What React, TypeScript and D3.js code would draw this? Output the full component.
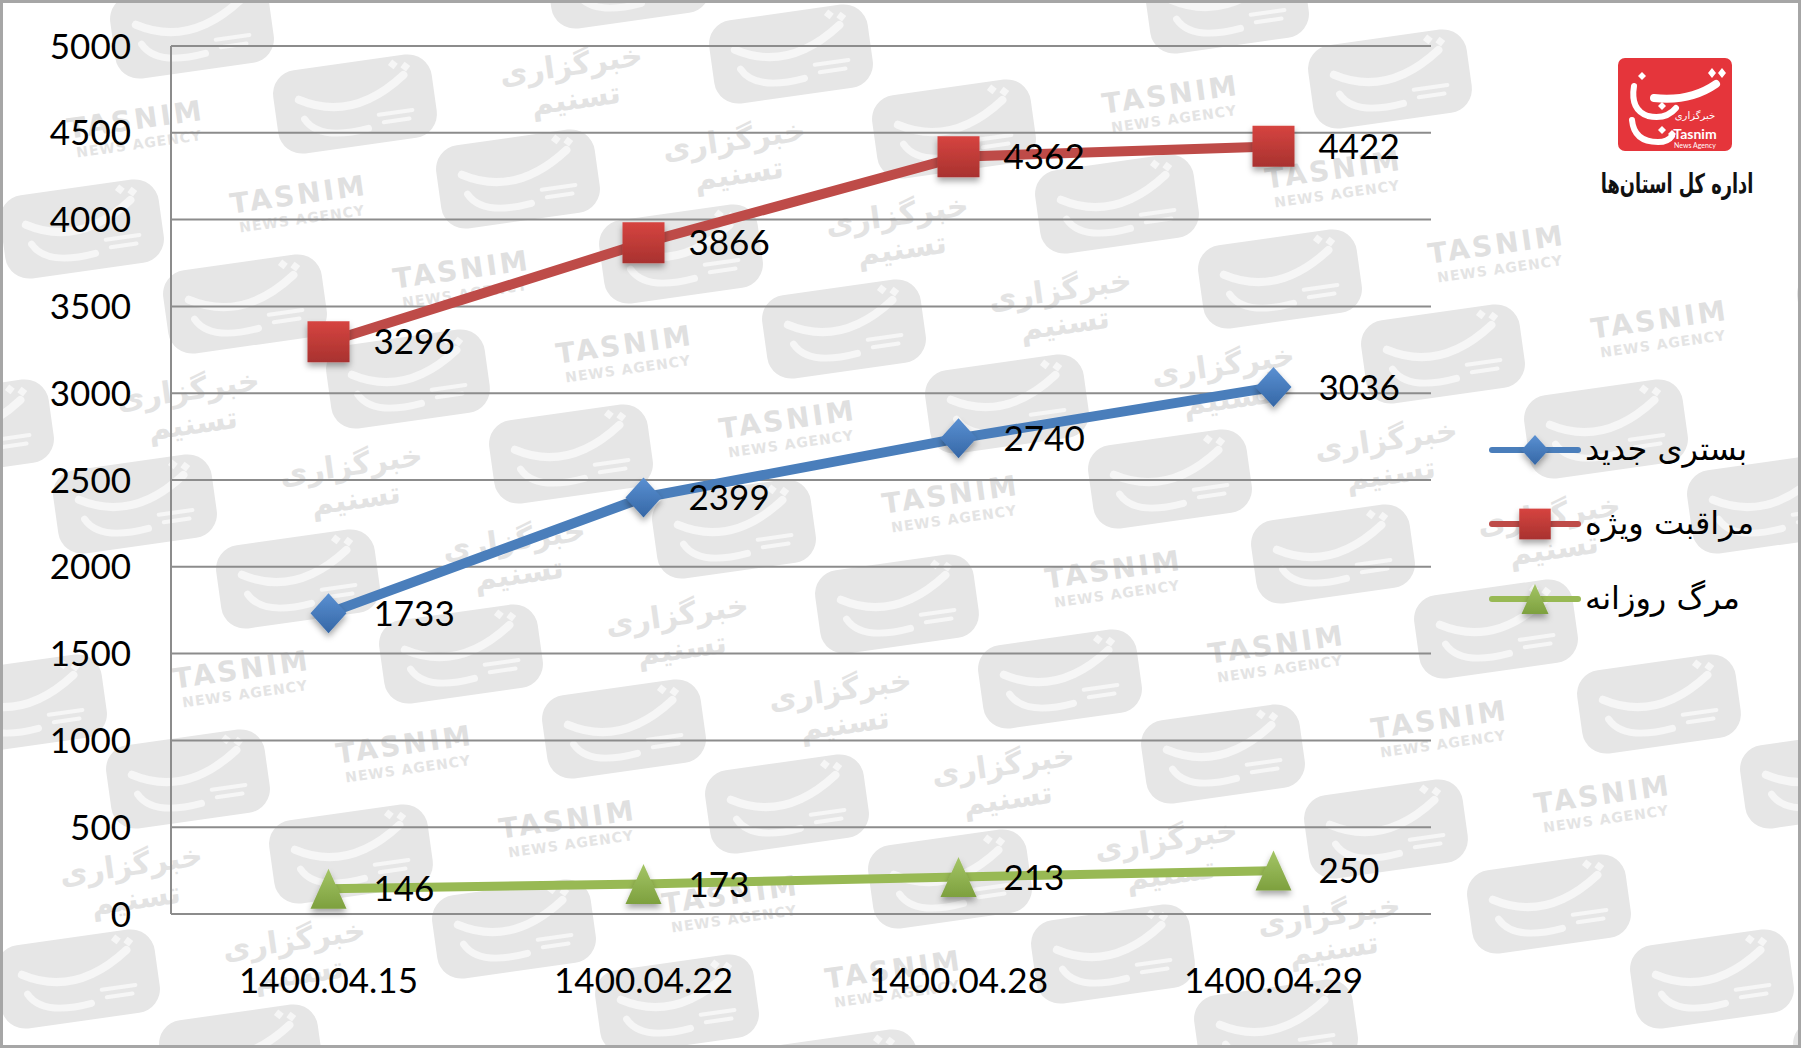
import React from 'react';
import * as d3 from 'd3';

// ---------- data ----------
const categories = ['1400.04.15', '1400.04.22', '1400.04.28', '1400.04.29'];
const hospitalized = [1733, 2399, 2740, 3036]; // بستری جدید
const icu = [3296, 3866, 4362, 4422]; // مراقبت ویژه
const deaths = [146, 173, 213, 250]; // مرگ روزانه
const seriesNames = ['بستری جدید', 'مراقبت ویژه', 'مرگ روزانه'];
const yTicks = [0, 500, 1000, 1500, 2000, 2500, 3000, 3500, 4000, 4500, 5000];
const logoCaption = 'اداره کل استان‌ها';

const W = 1801;
const H = 1048;
const LABEL_FONT = "Lato, 'Open Sans', sans-serif";
const AR_FONT = "'DejaVu Sans', 'Noto Sans', sans-serif";

const diamond = (cx: number, cy: number, hw: number, hh: number) =>
  `M${cx},${cy - hh}L${cx + hw},${cy}L${cx},${cy + hh}L${cx - hw},${cy}Z`;
const square = (cx: number, cy: number, hw: number, hh: number) =>
  `M${cx - hw},${cy - hh}H${cx + hw}V${cy + hh}H${cx - hw}Z`;
const triangle = (cx: number, cy: number, hw: number, hh: number) =>
  `M${cx},${cy - hh}L${cx + hw},${cy + hh}L${cx - hw},${cy + hh}Z`;

const series = [
  { name: seriesNames[0], values: hospitalized, line: '#4A7EBB', grad: 'gBlue', marker: 'diamond', lw: 10 },
  { name: seriesNames[1], values: icu, line: '#BE4B48', grad: 'gRed', marker: 'square', lw: 10 },
  { name: seriesNames[2], values: deaths, line: '#98B954', grad: 'gGreen', marker: 'triangle', lw: 9 },
];

function markerPath(kind: string, cx: number, cy: number, scale = 1) {
  if (kind === 'diamond') return diamond(cx, cy, 18 * scale, 20 * scale);
  if (kind === 'square') return square(cx, cy, 21 * scale, 20.5 * scale);
  return triangle(cx, cy, 18 * scale, 20 * scale);
}

function Watermark() {
  const s = [218, -25];
  const r = [-55, 100];
  const o = [626, 354];
  const items: React.ReactNode[] = [];
  for (let i = -8; i <= 10; i++) {
    for (let j = -6; j <= 10; j++) {
      const x = o[0] + i * s[0] + j * r[0];
      const y = o[1] + i * s[1] + j * r[1];
      if (x < -120 || x > W + 120 || y < -80 || y > H + 80) continue;
      // keep the corner with the agency logo clear
      if (x > 1540 && y < 230) continue;
      const odd = ((i + j) % 2 + 2) % 2 === 1;
      const inside = x - 95 > 4 && x + 95 < W - 4 && y - 40 > 4 && y + 45 < H - 4;
      const key = `${i}_${j}`;
      if (odd) {
        items.push(
          <g key={key} transform={`translate(${x},${y}) rotate(-8)`}>
            <rect x={-80} y={-42} width={160} height={84} rx={24} fill="#e6e6e6" />
            <path d="M-55,-12 Q-5,18 52,-22" stroke="#f6f6f6" strokeWidth={8} fill="none" strokeLinecap="round" />
            <path d="M-52,8 Q-40,32 10,26" stroke="#f6f6f6" strokeWidth={7} fill="none" strokeLinecap="round" />
            <path d="M38,-34 l5,-5 l5,5 l-5,5Z M50,-30 l5,-5 l5,5 l-5,5Z" fill="#f6f6f6" />
            <path d="M22,14 h34 M26,22 h26" stroke="#f6f6f6" strokeWidth={4} strokeLinecap="round" />
          </g>
        );
      } else if (inside) {
        const k = (((i + j) / 2 + j) % 2 + 2) % 2;
        if (k === 0) {
          items.push(
            <g key={key} transform={`translate(${x},${y}) rotate(-8)`}>
              <text x={0} y={0} fontFamily={AR_FONT} fontSize={28} fontWeight="bold" letterSpacing={3} fill="#e0e0e0" textAnchor="middle">TASNIM</text>
              <text x={0} y={20} fontFamily={AR_FONT} fontSize={14} fontWeight="bold" letterSpacing={1} fill="#e4e4e4" textAnchor="middle">NEWS AGENCY</text>
            </g>
          );
        } else {
          items.push(
            <g key={key} transform={`translate(${x},${y}) rotate(-8)`}>
              <text x={0} y={-4} fontFamily={AR_FONT} fontSize={30} fontWeight="bold" fill="#e3e3e3" textAnchor="middle">خبرگزاری</text>
              <text x={0} y={30} fontFamily={AR_FONT} fontSize={30} fontWeight="bold" fill="#e3e3e3" textAnchor="middle">تسنیم</text>
            </g>
          );
        }
      }
    }
  }
  return <g>{items}</g>;
}

function Logo() {
  const x0 = 1618;
  const y0 = 58;
  return (
    <g>
      <g transform={`translate(${x0},${y0})`}>
        <rect x={0} y={0} width={114} height={93} rx={7} fill="#E5353B" />
        <path d="M98,26 Q72,44 36,40" stroke="#fff" strokeWidth={8} fill="none" strokeLinecap="round" />
        <path d="M16,28 Q12,52 30,58 Q48,62 58,50" stroke="#fff" strokeWidth={6} fill="none" strokeLinecap="round" />
        <path d="M14,62 Q16,84 40,84 Q50,84 54,78" stroke="#fff" strokeWidth={6} fill="none" strokeLinecap="round" />
        <path d="M90,15 l4,-5 l4,5 l-4,5Z M100,15 l4,-5 l4,5 l-4,5Z" fill="#fff" />
        <path d="M20,18 l4,-4 l4,4 l-4,4Z M40,48 l4,-4 l4,4 l-4,4Z M40,72 l4,-4 l4,4 l-4,4Z M50,76 l4,-4 l4,4 l-4,4Z" fill="#fff" />
        <text x={77} y={61} fontFamily={AR_FONT} fontSize={10} fill="#fff" textAnchor="middle">خبرگزاری</text>
        <text x={77} y={81} fontFamily={LABEL_FONT} fontSize={14} fontWeight="bold" fill="#fff" textAnchor="middle">Tasnim</text>
        <text x={77} y={90} fontFamily={LABEL_FONT} fontSize={7} fill="#fff" textAnchor="middle">News Agency</text>
      </g>
      <text transform="translate(1677,193) scale(0.66,1)" x={0} y={0} fontFamily={AR_FONT} fontSize={27} fontWeight="bold" fill="#111" textAnchor="middle">
        {logoCaption}
      </text>
    </g>
  );
}

export default function App() {
  const x = d3.scaleBand<string>().domain(categories).range([171, 1431]);
  const y = d3.scaleLinear().domain([0, 5000]).range([914, 46]);
  const cx = (c: string) => (x(c) as number) + x.bandwidth() / 2;
  const line = d3
    .line<number>()
    .x((_, i) => cx(categories[i]))
    .y((d) => y(d));

  const legendRows = [450, 524, 599];

  return (
    <svg width={W} height={H} style={{ position: 'absolute', left: 0, top: 0 }} xmlns="http://www.w3.org/2000/svg">
      <defs>
        <linearGradient id="gBlue" x1="0" y1="0" x2="0" y2="1">
          <stop offset="0" stopColor="#5A90D2" />
          <stop offset="1" stopColor="#3567A6" />
        </linearGradient>
        <linearGradient id="gRed" x1="0" y1="0" x2="0" y2="1">
          <stop offset="0" stopColor="#D64440" />
          <stop offset="1" stopColor="#A8322F" />
        </linearGradient>
        <linearGradient id="gGreen" x1="0" y1="0" x2="0" y2="1">
          <stop offset="0" stopColor="#A4C566" />
          <stop offset="1" stopColor="#7DA03E" />
        </linearGradient>
        <filter id="shadow" x="-50%" y="-50%" width="200%" height="200%">
          <feDropShadow dx="0" dy="4" stdDeviation="3" floodColor="#000" floodOpacity="0.35" />
        </filter>
      </defs>
      <rect x={0} y={0} width={W} height={H} fill="#fff" />
      <Watermark />

      {/* grid */}
      {yTicks.map((t) => (
        <line key={t} x1={171} x2={1431} y1={y(t)} y2={y(t)} stroke="#8c8c8c" strokeWidth={2} />
      ))}
      <line x1={171} x2={171} y1={y(5000)} y2={y(0)} stroke="#8c8c8c" strokeWidth={2} />

      {/* y tick labels */}
      {yTicks.map((t) => (
        <text key={t} x={131} y={y(t)} dy="0.36em" textAnchor="end" fontFamily={LABEL_FONT} fontSize={35} fill="#000">
          {t}
        </text>
      ))}
      {/* x labels */}
      {categories.map((c) => (
        <text key={c} x={cx(c)} y={980} dy="0.36em" textAnchor="middle" fontFamily={LABEL_FONT} fontSize={35} fill="#000">
          {c}
        </text>
      ))}

      {/* lines */}
      {series.map((s) => (
        <path key={s.name} d={line(s.values) || ''} fill="none" stroke={s.line} strokeWidth={s.lw} strokeLinejoin="round" />
      ))}
      {/* markers */}
      {series.map((s) =>
        s.values.map((v, i) => (
          <path key={s.name + i} d={markerPath(s.marker, cx(categories[i]), y(v))} fill={`url(#${s.grad})`} filter="url(#shadow)" />
        ))
      )}
      {/* data labels */}
      {series.map((s) =>
        s.values.map((v, i) => (
          <text key={s.name + 'l' + i} x={cx(categories[i]) + 45} y={y(v)} dy="0.36em" fontFamily={LABEL_FONT} fontSize={35} fill="#000">
            {v}
          </text>
        ))
      )}

      {/* legend */}
      {series.map((s, k) => (
        <g key={'lg' + k}>
          <line x1={1492} x2={1578} y1={legendRows[k]} y2={legendRows[k]} stroke={s.line} strokeWidth={6} strokeLinecap="round" />
          <path d={markerPath(s.marker, 1535, legendRows[k], 0.75)} fill={`url(#${s.grad})`} filter="url(#shadow)" />
          <text x={1585} y={legendRows[k]} dy="0.3em" fontFamily={AR_FONT} fontSize={32} fill="#000">
            {s.name}
          </text>
        </g>
      ))}

      <Logo />

      <rect x={1.5} y={1.5} width={W - 3} height={H - 3} fill="none" stroke="#a6a6a6" strokeWidth={3} />
    </svg>
  );
}
